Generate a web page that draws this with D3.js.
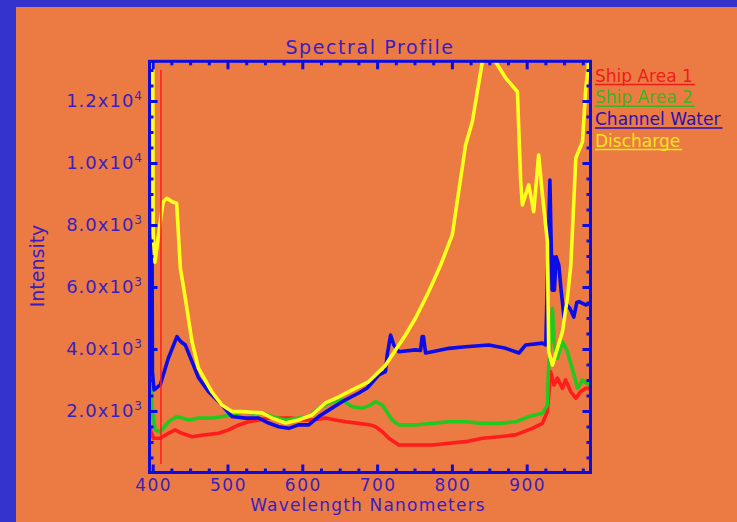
<!DOCTYPE html>
<html>
<head>
<meta charset="utf-8">
<script src="https://cdn.jsdelivr.net/npm/d3@7"></script>
<style>
  body { margin: 0; background: #3434cc; overflow: hidden; }
  svg text { font-family: "DejaVu Sans", sans-serif; }
</style>
</head>
<body>
<svg width="737" height="522"></svg>
<script>
// values (wavelength nm / intensity)
var ship1Nm = [396, 401, 410, 421, 430, 439, 452.5, 470, 488, 501.5, 515, 528, 541.6, 555, 568, 586, 600, 613, 631, 644, 658, 675.5, 691, 698, 707, 715.7, 729, 751, 774, 796, 818, 841, 863, 885, 907.6, 921, 927.7, 932, 936.5, 941, 947.8, 952, 959, 965.6, 972, 979, 984];
var ship1Val = [1440, 1120, 1120, 1280, 1390, 1280, 1170, 1230, 1280, 1390, 1550, 1650, 1710, 1770, 1770, 1770, 1710, 1710, 1770, 1710, 1650, 1600, 1550, 1490, 1330, 1120, 900, 900, 900, 960, 1010, 1120, 1170, 1230, 1440, 1600, 1980, 3270, 2840, 3060, 2730, 3000, 2620, 2410, 2620, 2730, 2730];

var ship2Nm = [397, 399.5, 403.3, 410, 421, 432.4, 448, 461.3, 479, 492.6, 506, 519.4, 532.8, 546, 559.6, 577.5, 595, 608.6, 622, 640, 653, 666.7, 680, 691, 698, 707, 720, 729, 751, 774, 796, 818, 841, 863, 885, 903, 921, 927.7, 929, 934.4, 936.5, 941, 947.8, 954.5, 963.4, 968, 974.6, 984];
var ship2Val = [3100, 1980, 1390, 1330, 1650, 1820, 1710, 1770, 1770, 1820, 1870, 1980, 1940, 1940, 1820, 1710, 1770, 1820, 2090, 2300, 2360, 2140, 2090, 2190, 2300, 2190, 1710, 1550, 1550, 1600, 1650, 1650, 1600, 1600, 1650, 1820, 1930, 2190, 3270, 5310, 4240, 3700, 4240, 3910, 3160, 2730, 3000, 2840];

var waterNm = [399, 399.6, 401.8, 410, 421, 432.4, 437, 443.5, 452.5, 461.3, 474.7, 492.6, 506, 523.8, 541.6, 555, 568.4, 581.8, 595, 608.6, 622, 640, 657.7, 675.5, 686.7, 702.3, 711.2, 713.5, 718, 722.4, 729, 751.4, 758, 760.3, 762, 764.8, 773.8, 796, 818, 849.5, 872, 889.7, 898.7, 921, 925.5, 927, 931, 934, 935.5, 937, 939.5, 943, 946, 950, 953, 958, 963, 967, 970, 979, 985];
var waterVal = [8400, 3270, 2680, 2840, 3710, 4400, 4250, 4130, 3590, 3070, 2620, 2190, 1820, 1770, 1770, 1610, 1490, 1440, 1550, 1550, 1820, 2100, 2360, 2580, 2740, 3160, 3270, 3810, 4450, 4130, 3910, 3970, 3950, 4400, 4400, 3870, 3910, 4020, 4070, 4130, 4020, 3870, 4130, 4190, 4130, 5600, 9450, 5900, 6970, 5900, 6970, 6700, 5900, 5000, 5450, 5300, 5030, 5500, 5530, 5420, 5480];

var dischargeNm = [400, 400.6, 403, 409, 414, 419, 426, 432, 437, 443.5, 452.5, 461, 479, 492.6, 506, 519, 546, 559.6, 577.5, 594.8, 613, 631, 648.3, 666.7, 688.6, 711.4, 738, 751.4, 768.8, 785, 800.5, 818.3, 827.3, 840.7, 850, 858.5, 872, 887.6, 892, 894.2, 902.7, 909.4, 916, 921, 927.7, 928.5, 929.5, 934.4, 947.8, 954.5, 959, 965.7, 974.6, 979, 983, 985.3];
var dischargeVal = [14500, 7700, 6800, 7900, 8750, 8860, 8750, 8700, 6600, 5650, 4240, 3390, 2620, 2190, 1980, 1980, 1940, 1770, 1610, 1710, 1870, 2260, 2450, 2680, 2940, 3480, 4450, 5000, 5840, 6710, 7680, 10580, 11330, 13270, 14100, 13260, 12740, 12300, 9400, 8650, 9290, 8430, 10260, 8970, 7460, 5650, 3900, 3480, 4560, 5650, 6710, 10160, 10690, 12420, 13260, 14200];

var markerNm = [411, 411];
var markerVal = [290, 13000];

var seriesNames = ["Ship Area 1", "Ship Area 2", "Channel Water", "Discharge"];
var seriesColors = ["#ff1c1c", "#22c81e", "#0c0ce6", "#ffff1e"];
var legendColors = ["#f01c1c", "#3cb41e", "#2810b4", "#f0e61e"];

var xTicks = [400, 500, 600, 700, 800, 900];
var yTicks = [2000, 4000, 6000, 8000, 10000, 12000];
var yTickLabels = [["2.0x10", "3"], ["4.0x10", "3"], ["6.0x10", "3"], ["8.0x10", "3"], ["1.0x10", "4"], ["1.2x10", "4"]];

var svg = d3.select("svg"),
    frame = {left: 149.5, right: 590.5, top: 61.3, bottom: 472.5},
    textColor = "#3a1ec0",
    axisColor = "#0c0ce0";

svg.append("rect").attr("width", 737).attr("height", 522).attr("fill", "#3434cc");
svg.append("rect").attr("x", 16).attr("y", 7).attr("width", 737).attr("height", 522).attr("fill", "#ec7b43");

var x = d3.scaleLinear().domain([395.7, 985.3]).range([frame.left, frame.right]);
var y = d3.scaleLinear().domain([15, 13281]).range([frame.bottom, frame.top]);

svg.append("clipPath").attr("id", "plotclip")
    .append("rect")
    .attr("x", frame.left).attr("y", frame.top)
    .attr("width", frame.right - frame.left).attr("height", frame.bottom - frame.top);

var line = d3.line()
    .x(function (d) { return x(d[0]); })
    .y(function (d) { return y(d[1]); });

var series = [
    d3.zip(ship1Nm, ship1Val),
    d3.zip(ship2Nm, ship2Val),
    d3.zip(waterNm, waterVal),
    d3.zip(dischargeNm, dischargeVal)
];

var plot = svg.append("g").attr("clip-path", "url(#plotclip)");
plot.selectAll("path.series")
    .data(series)
    .enter()
    .append("path")
    .attr("class", "series")
    .attr("d", line)
    .attr("fill", "none")
    .attr("stroke", function (d, i) { return seriesColors[i]; })
    .attr("stroke-width", 3.6)
    .attr("stroke-linejoin", "round");

// thin red cursor line near 411 nm
plot.append("path")
    .attr("d", line(d3.zip(markerNm, markerVal)))
    .attr("stroke", "#ff1c1c")
    .attr("stroke-width", 1.5);

// axes: ticks point inward on all four sides
var xMinor = d3.range(425, 986, 25).filter(function (v) { return v % 100 != 0; });
var yMinor = d3.range(500, 13281, 500).filter(function (v) { return v % 2000 != 0; });

function ticksX(g, size) {
    g.call(d3.axisBottom(x).tickValues(xTicks).tickSize(size).tickFormat(""))
    g.append("g").call(d3.axisBottom(x).tickValues(xMinor).tickSize(size > 0 ? 4 : -4).tickFormat(""));
}
function ticksY(g, size) {
    g.call(d3.axisLeft(y).tickValues(yTicks).tickSize(size).tickFormat(""))
    g.append("g").call(d3.axisLeft(y).tickValues(yMinor).tickSize(size > 0 ? 4 : -4).tickFormat(""));
}

svg.append("g").attr("transform", "translate(0," + frame.bottom + ")").call(ticksX, -8);
svg.append("g").attr("transform", "translate(0," + frame.top + ")").call(ticksX, 8);
svg.append("g").attr("transform", "translate(" + frame.left + ",0)").call(ticksY, -8);
svg.append("g").attr("transform", "translate(" + frame.right + ",0)").call(ticksY, 8);

svg.selectAll(".domain").remove();
svg.selectAll(".tick line").attr("stroke", axisColor).attr("stroke-width", 3);

svg.append("rect")
    .attr("x", frame.left).attr("y", frame.top)
    .attr("width", frame.right - frame.left).attr("height", frame.bottom - frame.top)
    .attr("fill", "none").attr("stroke", axisColor).attr("stroke-width", 3);

// tick labels
svg.append("g").selectAll("text")
    .data(xTicks)
    .enter()
    .append("text")
    .attr("x", function (d) { return x(d) + 1; })
    .attr("y", 490.5)
    .attr("text-anchor", "middle")
    .attr("fill", textColor)
    .style("font-size", "17px")
    .style("letter-spacing", "1.5px")
    .text(function (d) { return d; });

var yl = svg.append("g").selectAll("text")
    .data(yTicks)
    .enter()
    .append("text")
    .attr("x", 143)
    .attr("y", function (d) { return y(d) + 6; })
    .attr("text-anchor", "end")
    .attr("fill", textColor)
    .style("font-size", "18px")
    .style("letter-spacing", "1px");
yl.append("tspan").text(function (d, i) { return yTickLabels[i][0]; });
yl.append("tspan").attr("dy", -7).style("font-size", "12px")
    .text(function (d, i) { return yTickLabels[i][1]; });

// titles
svg.append("text")
    .attr("x", (frame.left + frame.right) / 2)
    .attr("y", 54)
    .attr("text-anchor", "middle")
    .attr("fill", textColor)
    .style("font-size", "19px")
    .style("letter-spacing", "1.6px")
    .text("Spectral Profile");

svg.append("text")
    .attr("x", (frame.left + frame.right) / 2 - 2)
    .attr("y", 511)
    .attr("text-anchor", "middle")
    .attr("fill", textColor)
    .style("font-size", "17px")
    .style("letter-spacing", "1.2px")
    .text("Wavelength Nanometers");

svg.append("text")
    .attr("transform", "translate(44,266) rotate(-90)")
    .attr("text-anchor", "middle")
    .attr("fill", textColor)
    .style("font-size", "19px")
    .text("Intensity");

// legend with underlined names
var legend = svg.append("g").selectAll("g")
    .data(seriesNames)
    .enter()
    .append("g")
    .attr("transform", function (d, i) { return "translate(595," + (81.5 + i * 21.7) + ")"; });

legend.append("text")
    .attr("fill", function (d, i) { return legendColors[i]; })
    .style("font-size", "17px")
    .text(function (d) { return d; });

legend.each(function (d, i) {
    var w = d3.select(this).select("text").node().getComputedTextLength();
    d3.select(this).append("line")
        .attr("x1", 0).attr("x2", w + 2)
        .attr("y1", 3).attr("y2", 3)
        .attr("stroke", legendColors[i])
        .attr("stroke-width", 1.5);
});
</script>
</body>
</html>
